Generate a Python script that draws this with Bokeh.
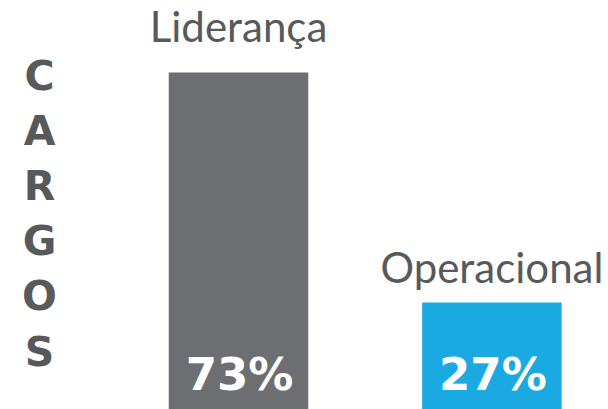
from bokeh.plotting import figure
from bokeh.models import ColumnDataSource, Range1d
from bokeh.core.properties import value
from bokeh.embed import file_html
from bokeh.resources import INLINE

# ---- data ----
categories = ["Liderança", "Operacional"]
shares = [73, 27]
bar_colors = ["#6d6e72", "#1ba9e1"]
side_title = "CARGOS"

# ---- styles ----
label_gap = [47, 36]      # px between bar top and category label anchor
TEXT_GREY = "#58595b"

W, H = 608, 409
px_per_unit = 253.4
center0_px = 238.0

p = figure(width=W, height=H, output_backend="svg", toolbar_location=None,
           min_border=0, x_range=Range1d(-center0_px / px_per_unit, (W - center0_px) / px_per_unit),
           y_range=Range1d(5.6, 87.4))
p.axis.visible = False
p.grid.visible = False
p.outline_line_color = None
p.background_fill_color = "white"
p.border_fill_color = "white"

xs = list(range(len(categories)))
src = ColumnDataSource(dict(
    x=xs, top=shares, color=bar_colors, cat=categories,
    pct=[f"{v}%" for v in shares],
    gap=[-g for g in label_gap],
    zero=[0] * len(shares),
))

p.vbar(x="x", top="top", bottom=0, width=139.5 / px_per_unit, color="color",
       line_color=None, source=src)

# category labels above the bars
p.text(x="x", y="top", text="cat", source=src, y_offset="gap",
       text_align="center", text_baseline="alphabetic",
       text_font=value("Lato"), text_font_size="42px", text_color=TEXT_GREY)

# percentages inside the bars
p.text(x="x", y="zero", text="pct", source=src, x_offset=1, y_offset=-63,
       text_align="center", text_baseline="alphabetic",
       text_font=value("DejaVu Sans"), text_font_style="bold",
       text_font_size="45px", text_color="white")

# vertical side title
p.extra_x_ranges = {"side": Range1d(0, W)}
step = 55.2
top_val = -75 / step
p.extra_y_ranges = {"letters": Range1d(top_val + H / step, top_val)}
letters = list(side_title)
lsrc = ColumnDataSource(dict(x=[39] * len(letters), y=list(range(len(letters))), t=letters))
p.text(x="x", y="y", text="t", source=lsrc, x_range_name="side", y_range_name="letters",
       text_align="center", text_baseline="alphabetic",
       text_font=value("DejaVu Sans"), text_font_style="bold",
       text_font_size="41px", text_color=TEXT_GREY)

open("out.html", "w").write(file_html(p, INLINE))
